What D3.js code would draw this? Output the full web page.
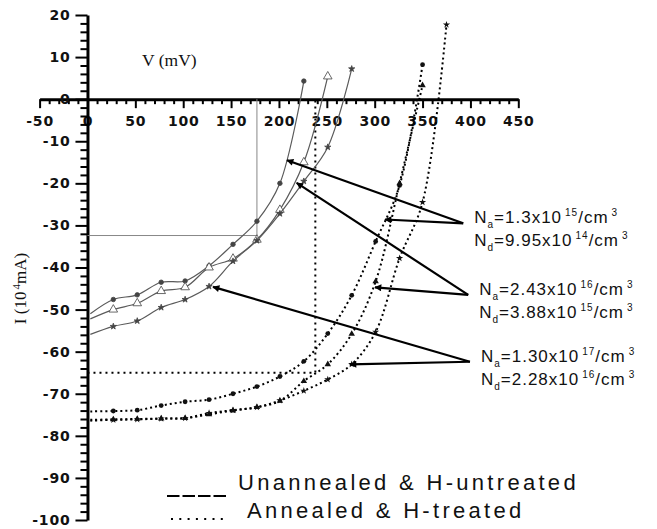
<!DOCTYPE html>
<html>
<head>
<meta charset="utf-8">
<script src="https://cdn.jsdelivr.net/npm/d3@7"></script>
<style>
  body { margin: 0; background: #fff; }
  svg { display: block; background: #fff; }
  .tick text { font-family: 'DejaVu Sans', sans-serif; font-weight: bold; font-size: 14px; letter-spacing: 0.8px; fill: #111; }
  .note { font-family: 'Liberation Sans', Arial, sans-serif; font-size: 17px; letter-spacing: 1px; fill: #111; }
  .legend { font-family: 'Liberation Sans', Arial, sans-serif; font-size: 22px; letter-spacing: 3.3px; fill: #111; }
  .serif { font-family: 'Liberation Serif', 'Times New Roman', serif; fill: #111; }
</style>
</head>
<body>
<svg id="chart" width="657" height="529"></svg>
<script>
// voltage steps (mV) shared by all curves
const voltages = [3, 27, 52, 77, 102, 127, 152, 177, 201, 226, 251, 276, 301, 326, 350, 375]

// current, 10^-4 mA, unannealed & H-untreated (solid)
const unannealedA = [-51, -47.6, -46.5, -43.5, -43.2, -39.6, -34.5, -29, -20, 4.3]
const unannealedB = [-52.2, -50, -48.5, -45.6, -44.7, -40, -37.9, -33.4, -26.3, -15, 5.4]
const unannealedC = [-55.9, -54, -52.7, -49.5, -47.6, -44.5, -38.5, -33.6, -27.2, -19.5, -11.4, 7.2]

// annealed & H-treated (dotted)
const annealedA = [-74.2, -74.1, -73.9, -72.8, -71.9, -71.4, -70, -68.3, -65.9, -62.3, -55.7, -46.6, -33.8, -20.5, 8.2]
const annealedB = [-76.2, -76.1, -76, -75.9, -75.8, -74.9, -74, -73.2, -71.7, -67, -63, -55.8, -43.3, -20, 3.3]
const annealedC = [-76.4, -76.2, -76.1, -75.9, -75.8, -74.6, -73.9, -73.2, -71.6, -69.3, -66.6, -63, -55.3, -37.8, -24.5, 17.7]

// guide lines [V, I]
const guideSolid = [177, -32.4]
const guideDotted = [238, -65]

// doping labels
const naValues = ['1.3', '2.43', '1.30']
const naExps = ['15', '16', '17']
const ndValues = ['9.95', '3.88', '2.28']
const ndExps = ['14', '15', '16']
// arrows: vertex near label and the two curve points it points at [V, I]
const arrowVertex = [[392.5, -29.5], [397.7, -46.5], [399.5, -62.4]]
const arrowSolid = [[208.4, -14.5], [218.5, -19.9], [131.1, -44.6]]
const arrowDotted = [[310.8, -28.6], [300.3, -44.7], [274.2, -63.0]]

const xTicks = d3.range(-50, 451, 50)
const yTicks = d3.range(-100, 21, 10)

const width = 657
const height = 529
const margin = { top: 15, right: 138.7, bottom: 9, left: 39.6 }

const svg = d3.select('#chart')

const x = d3.scaleLinear().domain([-50, 450]).range([margin.left, width - margin.right])
const y = d3.scaleLinear().domain([20, -100]).range([margin.top, height - margin.bottom])

// arrow head
svg.append('defs').append('marker')
  .attr('id', 'arrow')
  .attr('viewBox', '0 0 10 10')
  .attr('refX', 9)
  .attr('refY', 5)
  .attr('markerUnits', 'userSpaceOnUse')
  .attr('markerWidth', 11)
  .attr('markerHeight', 7)
  .attr('orient', 'auto')
  .append('path')
  .attr('d', 'M0,0L10,5L0,10z')
  .attr('fill', '#000')

// x axis through I = 0
const xMinor = d3.range(-50, 451, 10).filter(d => d % 50 !== 0)
svg.append('g')
  .attr('transform', 'translate(0,' + y(0) + ')')
  .call(d3.axisBottom(x).tickValues(xMinor).tickSize(5).tickFormat(''))
  .call(g => g.select('.domain').remove())
  .selectAll('line').attr('stroke-width', 2)

const xAxis = svg.append('g')
  .attr('transform', 'translate(0,' + y(0) + ')')
  .call(d3.axisBottom(x).tickValues(xTicks).tickSize(9).tickSizeOuter(0).tickPadding(8).tickFormat(d => String(d)))
xAxis.select('.domain').attr('stroke-width', 3)
xAxis.selectAll('line').attr('stroke-width', 2)

// y axis through V = 0
const yMinor = d3.range(-100, 21, 2).filter(d => d % 10 !== 0)
svg.append('g')
  .attr('transform', 'translate(' + x(0) + ',0)')
  .call(d3.axisLeft(y).tickValues(yMinor).tickSize(7).tickFormat(''))
  .call(g => g.select('.domain').remove())
  .selectAll('line').attr('stroke-width', 2)

const yAxis = svg.append('g')
  .attr('transform', 'translate(' + x(0) + ',0)')
  .call(d3.axisLeft(y).tickValues(yTicks).tickSize(12).tickSizeOuter(0).tickPadding(5).tickFormat(d => String(d)))
yAxis.select('.domain').attr('stroke-width', 3)
yAxis.selectAll('line').attr('stroke-width', 2)

// guide lines
svg.append('path')
  .attr('d', 'M' + x(0) + ',' + y(guideSolid[1]) + 'H' + x(guideSolid[0]) + 'V' + y(0))
  .attr('fill', 'none')
  .attr('stroke', '#888')
  .attr('stroke-width', 1)

svg.append('path')
  .attr('d', 'M' + x(0) + ',' + y(guideDotted[1]) + 'H' + x(guideDotted[0]) + 'V' + y(0))
  .attr('fill', 'none')
  .attr('stroke', '#000')
  .attr('stroke-width', 2)
  .attr('stroke-dasharray', '2,4')

// curves
const line = d3.line()
  .x(d => x(d[0]))
  .y(d => y(d[1]))
  .curve(d3.curveCatmullRom)

function toPoints(values) {
  return values.map((v, i) => [voltages[i], v])
}

const series = [
  { values: unannealedA, dotted: false, symbol: d3.symbolCircle, size: 16 },
  { values: unannealedB, dotted: false, symbol: d3.symbolTriangle, size: 32 },
  { values: unannealedC, dotted: false, symbol: d3.symbolStar, size: 12 },
  { values: annealedA, dotted: true, symbol: d3.symbolCircle, size: 18 },
  { values: annealedB, dotted: true, symbol: d3.symbolTriangle, size: 18 },
  { values: annealedC, dotted: true, symbol: d3.symbolStar, size: 16 }
]

series.forEach(function (s) {
  const pts = toPoints(s.values)
  svg.append('path')
    .datum(pts)
    .attr('fill', 'none')
    .attr('stroke', s.dotted ? '#000' : '#5a5a5a')
    .attr('stroke-width', s.dotted ? 2 : 1.2)
    .attr('stroke-dasharray', s.dotted ? '2,3' : null)
    .attr('d', line)

  svg.selectAll(null)
    .data(pts.slice(1))
    .enter()
    .append('path')
    .attr('transform', d => 'translate(' + x(d[0]) + ',' + y(d[1]) + ')')
    .attr('d', d3.symbol().type(s.symbol).size(s.size))
    .attr('fill', function () {
      if (s.dotted) return '#111'
      return s.symbol === d3.symbolTriangle ? '#fff' : '#444'
    })
    .attr('stroke', s.dotted ? 'none' : '#444')
    .attr('stroke-width', 0.8)
})

// arrows and doping labels
arrowVertex.forEach(function (v, i) {
  const vx = x(v[0])
  const vy = y(v[1])
  ;[arrowSolid[i], arrowDotted[i]].forEach(function (t) {
    svg.append('line')
      .attr('x1', vx).attr('y1', vy)
      .attr('x2', x(t[0])).attr('y2', y(t[1]))
      .attr('stroke', '#000')
      .attr('stroke-width', 2.2)
      .attr('marker-end', 'url(#arrow)')
  })

  addDoping(vx + 11, vy, 'a', naValues[i], naExps[i])
  addDoping(vx + 11, vy + 23, 'd', ndValues[i], ndExps[i])
})

function addDoping(px, py, sub, mant, exp) {
  const t = svg.append('text').attr('class', 'note').attr('x', px).attr('y', py)
  t.append('tspan').text('N')
  t.append('tspan').attr('dy', 5).attr('font-size', 10).text(sub)
  t.append('tspan').attr('dy', -5).text('=' + mant + 'x10')
  t.append('tspan').attr('dy', -7).attr('dx', 3).attr('font-size', 10).text(exp)
  t.append('tspan').attr('dy', 7).text('/cm')
  t.append('tspan').attr('dy', -7).attr('dx', 3).attr('font-size', 10).text('3')
}

// axis titles
svg.append('text')
  .attr('class', 'serif')
  .attr('x', x(57))
  .attr('y', y(8))
  .attr('font-size', 17.5)
  .text('V (mV)')

const yTitle = svg.append('text')
  .attr('class', 'serif')
  .attr('transform', 'translate(26,' + y(-45) + ') rotate(-90)')
  .attr('text-anchor', 'middle')
  .attr('font-size', 17)
yTitle.append('tspan').text('I (10')
yTitle.append('tspan').attr('dy', -6).attr('dx', 2).attr('font-size', 11).text('4')
yTitle.append('tspan').attr('dy', 6).text('mA)')

// legend
const legend = svg.append('g')
legend.append('line')
  .attr('x1', 167).attr('x2', 228).attr('y1', 496).attr('y2', 496)
  .attr('stroke', '#000').attr('stroke-width', 2.2)
  .attr('stroke-dasharray', '12.5,3')
legend.append('text').attr('class', 'legend').attr('x', 238).attr('y', 490)
  .text('Unannealed & H-untreated')
legend.append('line')
  .attr('x1', 171).attr('x2', 226).attr('y1', 519).attr('y2', 519)
  .attr('stroke', '#000').attr('stroke-width', 2)
  .attr('stroke-dasharray', '2,6.3')
legend.append('text').attr('class', 'legend').attr('x', 247).attr('y', 518)
  .text('Annealed & H-treated')
</script>
</body>
</html>
